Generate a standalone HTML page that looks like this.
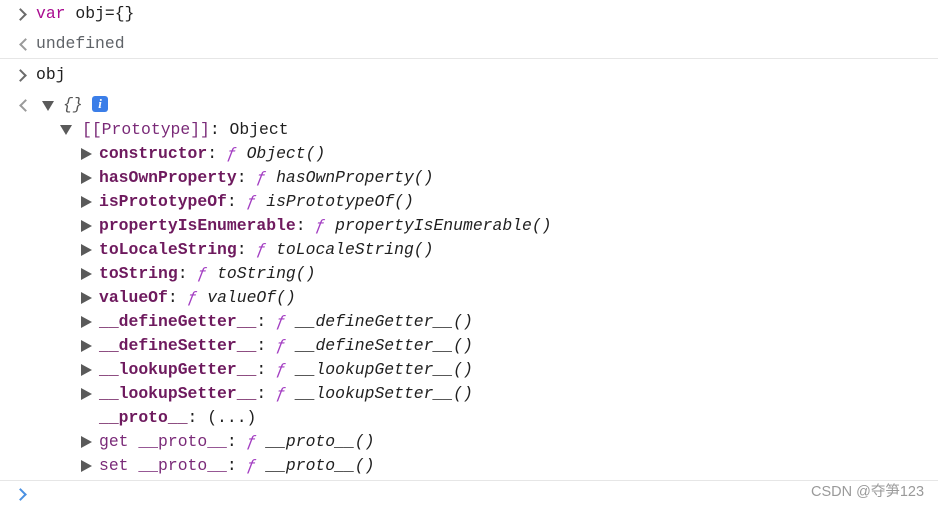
<!DOCTYPE html>
<html><head><meta charset="utf-8"><style>
body{margin:0;width:938px;height:508px;background:#fff;overflow:hidden;position:relative;font-family:"Liberation Mono",monospace;font-size:16.4px;color:#1f1f1f}
.r{position:absolute;white-space:pre;line-height:20px}
.k{color:#6e1a5e;font-weight:bold}
.p{color:#7a2a78}
.f{color:#a33ec2;font-style:italic}
.i{font-style:italic}
.kw{color:#aa0d91}
.g{color:#5f6368}
.sep{position:absolute;left:0;right:0;height:1px;background:#e6e6e6}
.chev{position:absolute;left:16px;width:7px;height:7px;border-right:2px solid #6b6b6b;border-top:2px solid #6b6b6b;transform:rotate(45deg)}
.chl{position:absolute;left:21px;width:7px;height:7px;border-left:2px solid #9a9a9a;border-bottom:2px solid #9a9a9a;transform:rotate(45deg)}
.td{position:absolute;width:0;height:0;border-left:6px solid transparent;border-right:6px solid transparent;border-top:10px solid #5a5a5a}
.tr{position:absolute;left:81px;width:0;height:0;border-top:6.5px solid transparent;border-bottom:6.5px solid transparent;border-left:11px solid #5a5a5a}
</style></head><body>
<div class="chev" style="top:10px"></div>
<div class="r" style="left:36px;top:4px"><span class="kw">var</span> obj={}</div>
<div class="chl" style="top:40px"></div>
<div class="r g" style="left:36px;top:34px">undefined</div>
<div class="sep" style="top:58px"></div>
<div class="chev" style="top:71px"></div>
<div class="r" style="left:36px;top:65px">obj</div>
<div class="chl" style="top:101px"></div>
<div class="td" style="left:42px;top:101px"></div>
<div class="r i" style="left:63px;top:95px;color:#555">{}</div>
<div style="position:absolute;left:92px;top:96px;width:16px;height:16px;border-radius:3px;background:#3b7ee8;color:#fff;font:bold italic 13px 'Liberation Serif',serif;text-align:center;line-height:16px">i</div>
<div class="td" style="left:60px;top:125px"></div>
<div class="r" style="left:82px;top:120px"><span class="p">[[Prototype]]</span>: Object</div>
<div class="tr" style="top:148px"></div><div class="r" style="left:99px;top:144px"><span class="k">constructor</span>: <span class="f">ƒ</span> <span class="i">Object()</span></div>
<div class="tr" style="top:172px"></div><div class="r" style="left:99px;top:168px"><span class="k">hasOwnProperty</span>: <span class="f">ƒ</span> <span class="i">hasOwnProperty()</span></div>
<div class="tr" style="top:196px"></div><div class="r" style="left:99px;top:192px"><span class="k">isPrototypeOf</span>: <span class="f">ƒ</span> <span class="i">isPrototypeOf()</span></div>
<div class="tr" style="top:220px"></div><div class="r" style="left:99px;top:216px"><span class="k">propertyIsEnumerable</span>: <span class="f">ƒ</span> <span class="i">propertyIsEnumerable()</span></div>
<div class="tr" style="top:244px"></div><div class="r" style="left:99px;top:240px"><span class="k">toLocaleString</span>: <span class="f">ƒ</span> <span class="i">toLocaleString()</span></div>
<div class="tr" style="top:268px"></div><div class="r" style="left:99px;top:264px"><span class="k">toString</span>: <span class="f">ƒ</span> <span class="i">toString()</span></div>
<div class="tr" style="top:292px"></div><div class="r" style="left:99px;top:288px"><span class="k">valueOf</span>: <span class="f">ƒ</span> <span class="i">valueOf()</span></div>
<div class="tr" style="top:316px"></div><div class="r" style="left:99px;top:312px"><span class="k">__defineGetter__</span>: <span class="f">ƒ</span> <span class="i">__defineGetter__()</span></div>
<div class="tr" style="top:340px"></div><div class="r" style="left:99px;top:336px"><span class="k">__defineSetter__</span>: <span class="f">ƒ</span> <span class="i">__defineSetter__()</span></div>
<div class="tr" style="top:364px"></div><div class="r" style="left:99px;top:360px"><span class="k">__lookupGetter__</span>: <span class="f">ƒ</span> <span class="i">__lookupGetter__()</span></div>
<div class="tr" style="top:388px"></div><div class="r" style="left:99px;top:384px"><span class="k">__lookupSetter__</span>: <span class="f">ƒ</span> <span class="i">__lookupSetter__()</span></div>
<div class="r" style="left:99px;top:408px"><span class="k">__proto__</span>: (...)</div>
<div class="tr" style="top:436px"></div><div class="r" style="left:99px;top:432px"><span class="p">get __proto__</span>: <span class="f">ƒ</span> <span class="i">__proto__()</span></div>
<div class="tr" style="top:460px"></div><div class="r" style="left:99px;top:456px"><span class="p">set __proto__</span>: <span class="f">ƒ</span> <span class="i">__proto__()</span></div>
<div class="sep" style="top:480px"></div>
<div class="chev" style="top:490px;border-color:#4a90e2"></div>
<div class="r" style="left:811px;top:482px;font-family:'Liberation Sans','Noto Sans CJK SC',sans-serif;font-size:14.5px;color:#9a9a9a">CSDN @夺笋123</div>
</body></html>
